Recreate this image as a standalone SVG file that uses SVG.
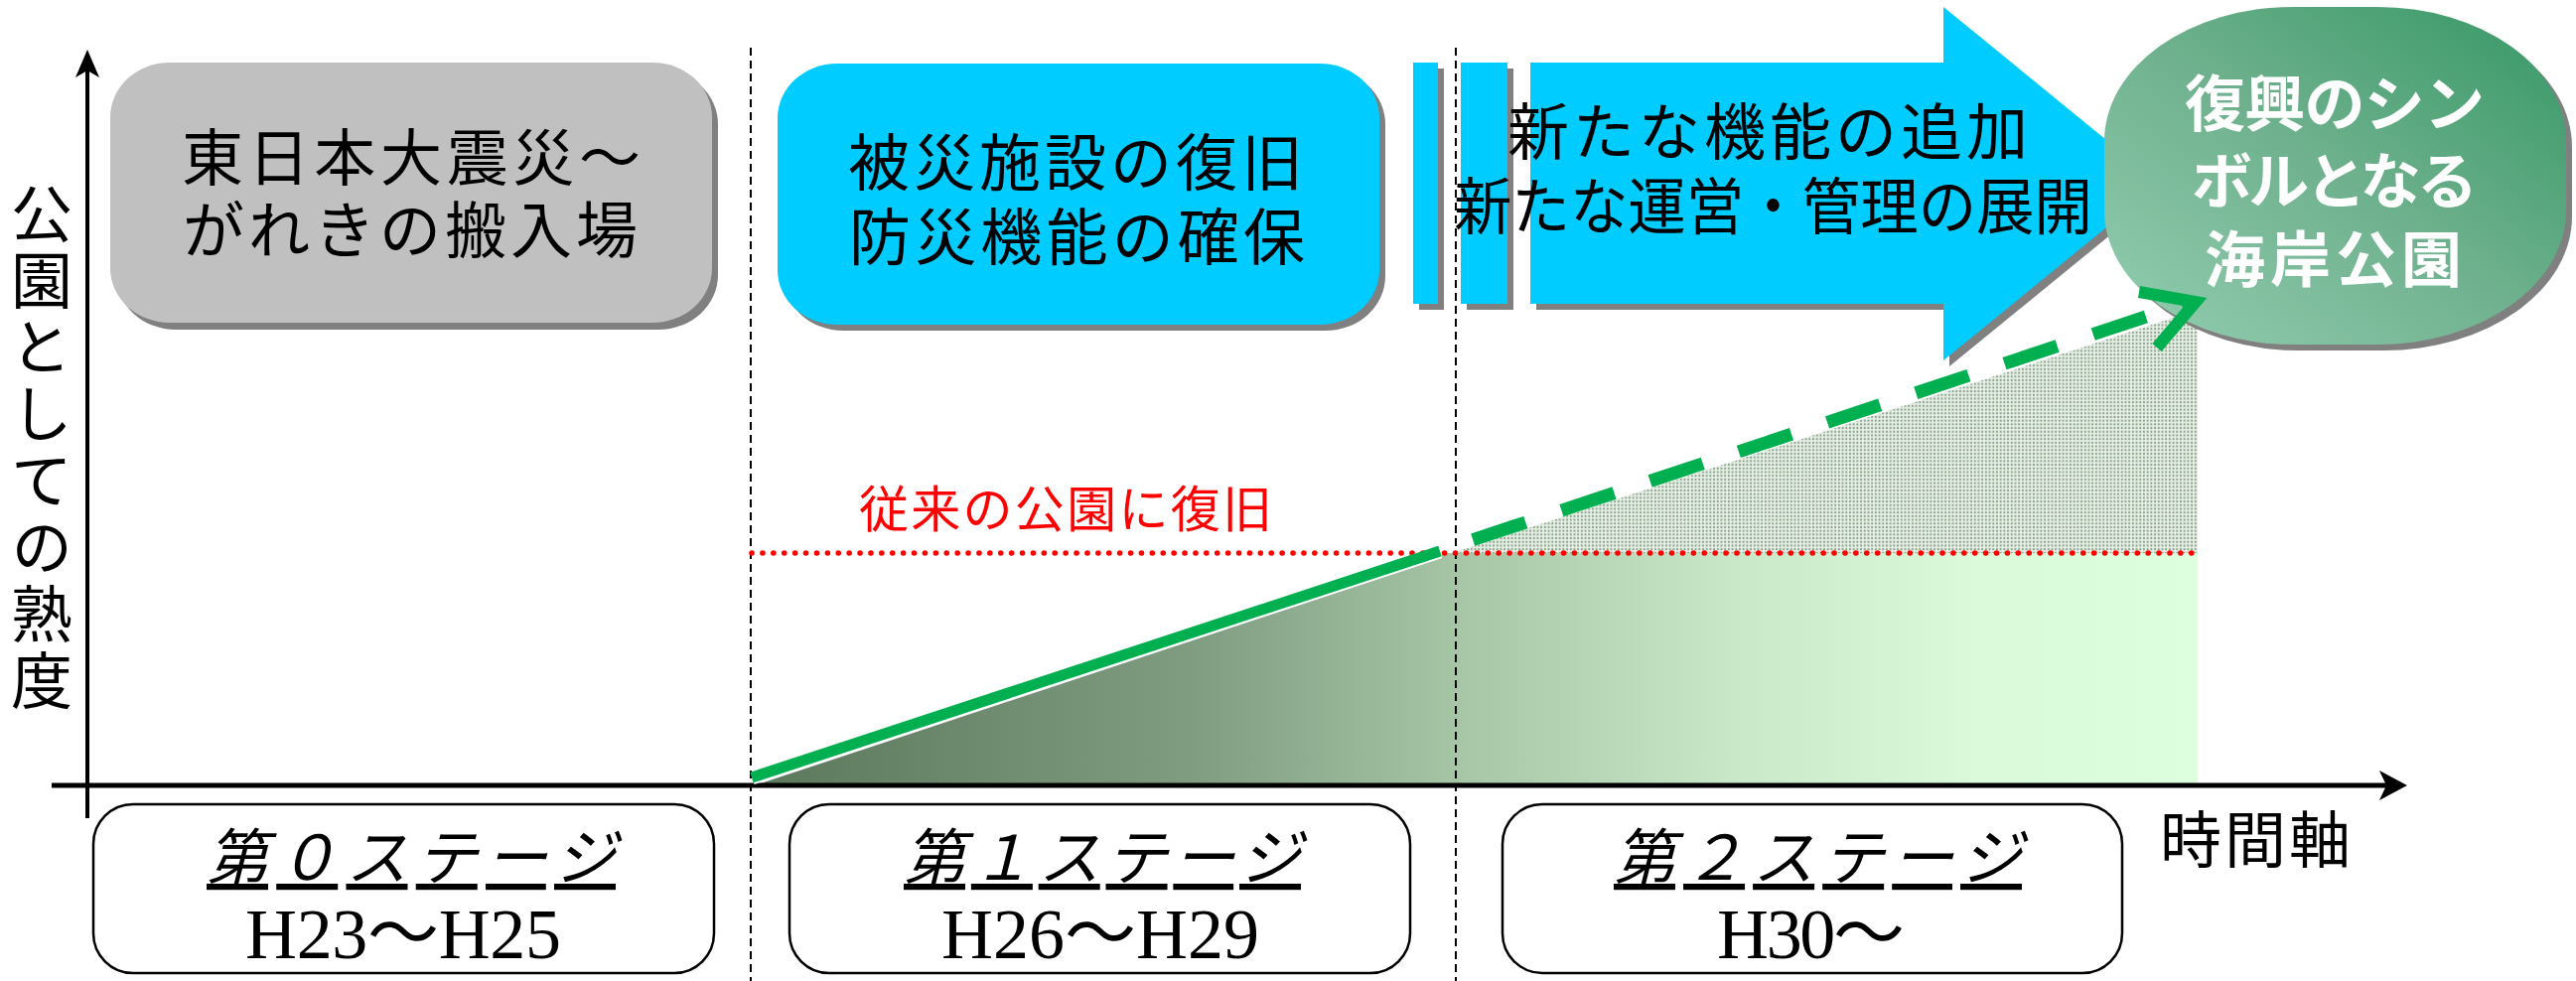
<svg xmlns="http://www.w3.org/2000/svg" width="2594" height="988" viewBox="0 0 2594 988">
<style>
.jp{font-family:"Noto Sans CJK JP","Noto Sans",sans-serif;}
.box-t{font-size:62px;fill:#000;}
.goal-t{font-size:61px;font-weight:bold;fill:#fff;}
.stage-box{fill:#fff;stroke:#000;stroke-width:2.5;}
.stage-t{font-family:"Liberation Serif","Noto Sans CJK JP",serif;font-style:italic;font-size:62px;text-decoration:underline;fill:#000;}
.year-t{font-family:"Liberation Serif","Noto Sans CJK JP",serif;font-size:72px;fill:#000;}
.shadow{fill:#808080;}
.vdash{stroke:#000;stroke-width:2;stroke-dasharray:8 5;fill:none;}
</style>
<defs>
<linearGradient id="fillGrad" gradientUnits="userSpaceOnUse" x1="760" y1="0" x2="2213" y2="0">
<stop offset="0" stop-color="#5b775c"/>
<stop offset="0.3" stop-color="#7f9b80"/>
<stop offset="0.49" stop-color="#a6c6a6"/>
<stop offset="0.68" stop-color="#c8e8c8"/>
<stop offset="0.85" stop-color="#dafada"/>
<stop offset="1" stop-color="#ddffdd"/>
</linearGradient>
<linearGradient id="goalGrad" x1="0" y1="1" x2="1" y2="0">
<stop offset="0" stop-color="#94ceb2"/>
<stop offset="0.5" stop-color="#6fb18e"/>
<stop offset="1" stop-color="#359764"/>
</linearGradient>
<pattern id="stipple" patternUnits="userSpaceOnUse" width="3.7" height="3.7">
<rect width="3.7" height="3.7" fill="#e4f1e4"/>
<circle cx="1.85" cy="1.85" r="1.1" fill="#8e9e8e"/>
</pattern>
</defs>

<g id="areas">
<polygon points="760,791 1452,562 1452,557 2213,557 2213,791" fill="url(#fillGrad)"/>
<polygon points="1462,557 2213,557 2213,312" fill="url(#stipple)"/>
</g>

<g id="guides">
<line class="vdash" x1="756" y1="48" x2="756" y2="988"/>
<line class="vdash" x1="1466" y1="48" x2="1466" y2="988"/>
<line x1="757" y1="557" x2="2213" y2="557" stroke="#ff0000" stroke-width="5.5" stroke-linecap="round" stroke-dasharray="0.1 10.8"/>
</g>

<g id="axes">
<line x1="88" y1="824" x2="88" y2="66" stroke="#000" stroke-width="4"/>
<path d="M88,50 L76,78 L88,71 L100,78 Z" fill="#000"/>
<line x1="52" y1="791" x2="2408" y2="791" stroke="#000" stroke-width="5"/>
<path d="M2424,791 L2396,776 L2403,791 L2396,806 Z" fill="#000"/>
</g>

<g id="axis-labels" class="jp">
<text x="42" y="184" font-size="62" writing-mode="vertical-rl" letter-spacing="5.2" fill="#000">公園としての熟度</text>
<text x="2175" y="869" font-size="62" textLength="192" fill="#000">時間軸</text>
<text x="865" y="531" font-size="50" textLength="416" fill="#ff0000">従来の公園に復旧</text>
</g>

<g id="node-gray">
<rect class="shadow" x="117" y="70" width="606" height="262" rx="60" ry="55"/>
<rect x="111" y="63" width="606" height="262" rx="60" ry="55" fill="#c0c0c0"/>
<text class="jp box-t" x="183" y="182" textLength="462">東日本大震災～</text>
<text class="jp box-t" x="184" y="255" textLength="458">がれきの搬入場</text>
</g>

<g id="node-blue">
<rect class="shadow" x="789" y="70" width="606" height="263" rx="60" ry="55"/>
<rect x="783" y="64" width="606" height="263" rx="60" ry="55" fill="#00ccff"/>
<text class="jp box-t" x="854" y="187" textLength="458">被災施設の復旧</text>
<text class="jp box-t" x="855" y="262" textLength="459">防災機能の確保</text>
</g>

<g id="node-arrow">
<rect class="shadow" x="1429" y="69" width="25" height="243"/>
<rect class="shadow" x="1477" y="69" width="47" height="243"/>
<polygon class="shadow" points="1547,69 1963,69 1963,13 2181,191 1963,369 1963,312 1547,312"/>
<rect x="1423" y="63" width="25" height="243" fill="#00ccff"/>
<rect x="1471" y="63" width="47" height="243" fill="#00ccff"/>
<polygon points="1541,63 1957,63 1957,7 2175,185 1957,363 1957,306 1541,306" fill="#00ccff"/>
<text class="jp box-t" x="1518" y="156" textLength="524">新たな機能の追加</text>
<text class="jp box-t" x="1464" y="231" textLength="643" lengthAdjust="spacingAndGlyphs">新たな運営・管理の展開</text>
</g>

<g id="node-goal">
<rect class="shadow" x="2125" y="13" width="465" height="340" rx="190" ry="135"/>
<rect x="2119" y="7" width="465" height="340" rx="190" ry="135" fill="url(#goalGrad)"/>
<text class="jp goal-t" x="2200" y="127" textLength="302">復興のシン</text>
<text class="jp goal-t" x="2207" y="205" textLength="288">ボルとなる</text>
<text class="jp goal-t" x="2220" y="284" textLength="259">海岸公園</text>
</g>

<g id="connectors">
<line x1="759" y1="788" x2="1451" y2="560" stroke="#ffffff" stroke-width="4"/>
<line x1="757" y1="783" x2="1450" y2="555" stroke="#00b050" stroke-width="11"/>
<line x1="1449" y1="555" x2="2206" y2="304" stroke="#00b050" stroke-width="13" stroke-dasharray="56 38" stroke-dashoffset="58"/>
<polyline points="2154,294 2211,304 2172,350" fill="none" stroke="#00b050" stroke-width="12" stroke-linejoin="miter"/>
</g>

<g id="stage0">
<rect class="stage-box" x="94" y="810" width="625" height="170" rx="40" ry="40"/>
<text class="stage-t" x="208" y="886" textLength="412">第０ステージ</text>
<text class="year-t" x="247" y="965" textLength="318">H23～H25</text>
</g>
<g id="stage1">
<rect class="stage-box" x="795" y="810" width="625" height="170" rx="40" ry="40"/>
<text class="stage-t" x="910" y="886" textLength="400">第１ステージ</text>
<text class="year-t" x="948" y="965" textLength="320">H26～H29</text>
</g>
<g id="stage2">
<rect class="stage-box" x="1513" y="810" width="624" height="170" rx="40" ry="40"/>
<text class="stage-t" x="1625" y="886" textLength="411">第２ステージ</text>
<text class="year-t" x="1729" y="965" textLength="189">H30～</text>
</g>
</svg>
